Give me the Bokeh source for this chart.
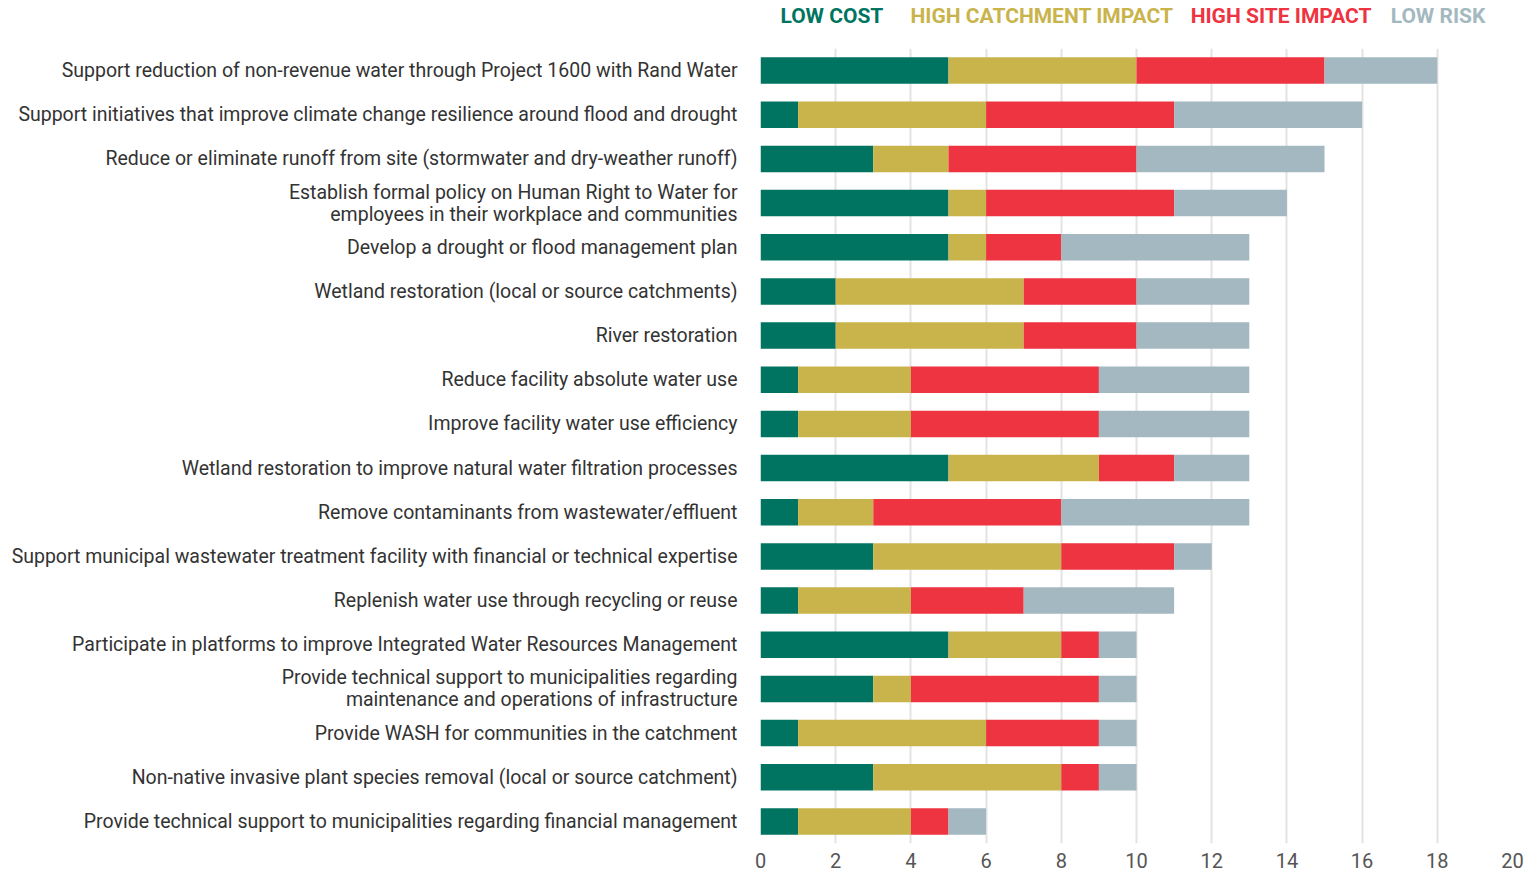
from bokeh.plotting import figure
from bokeh.layouts import column
from bokeh.models import FactorRange, Range1d, SingleIntervalTicker, ColumnDataSource
from bokeh.core.properties import value
from bokeh.embed import file_html
from bokeh.resources import INLINE

actions = [
    "Support reduction of non-revenue water through Project 1600 with Rand Water",
    "Support initiatives that improve climate change resilience around flood and drought",
    "Reduce or eliminate runoff from site (stormwater and dry-weather runoff)",
    "Establish formal policy on Human Right to Water for\nemployees in their workplace and communities",
    "Develop a drought or flood management plan",
    "Wetland restoration (local or source catchments)",
    "River restoration",
    "Reduce facility absolute water use",
    "Improve facility water use efficiency",
    "Wetland restoration to improve natural water filtration processes",
    "Remove contaminants from wastewater/effluent",
    "Support municipal wastewater treatment facility with financial or technical expertise",
    "Replenish water use through recycling or reuse",
    "Participate in platforms to improve Integrated Water Resources Management",
    "Provide technical support to municipalities regarding\nmaintenance and operations of infrastructure",
    "Provide WASH for communities in the catchment",
    "Non-native invasive plant species removal (local or source catchment)",
    "Provide technical support to municipalities regarding financial management",
]
low_cost = [5, 1, 3, 5, 5, 2, 2, 1, 1, 5, 1, 3, 1, 5, 3, 1, 3, 1]
high_catchment = [5, 5, 2, 1, 1, 5, 5, 3, 3, 4, 2, 5, 3, 3, 1, 5, 5, 3]
high_site = [5, 5, 5, 5, 2, 3, 3, 5, 5, 2, 5, 3, 3, 1, 5, 3, 1, 1]
low_risk = [3, 5, 5, 3, 5, 3, 3, 4, 4, 2, 5, 1, 4, 1, 1, 1, 1, 1]

series = ["LOW COST", "HIGH CATCHMENT IMPACT", "HIGH SITE IMPACT", "LOW RISK"]
keys = ["low_cost", "high_catchment", "high_site", "low_risk"]
colors = ["#007461", "#C9B44C", "#EE3341", "#A3B8C0"]

FONT = "Roboto"
xr = Range1d(0, 20)

# legend strip (text only, coloured like the series)
leg = figure(width=1528, height=32, output_backend="svg", toolbar_location=None,
             x_range=xr, y_range=Range1d(0, 32), min_border_left=760,
             min_border_right=16, min_border_top=0, min_border_bottom=0)
leg.axis.visible = False
leg.grid.grid_line_color = None
leg.outline_line_color = None
leg_src = ColumnDataSource(dict(x=[0.53, 3.99, 11.44, 16.76], y=[17] * 4,
                                text=series, color=colors))
leg.text(x="x", y="y", text="text", text_color="color", source=leg_src,
         text_font=value(FONT), text_font_style="bold", text_font_size="21px",
         text_baseline="middle", text_align="left")

src = ColumnDataSource(dict(action=actions, low_cost=low_cost,
                            high_catchment=high_catchment,
                            high_site=high_site, low_risk=low_risk))

p = figure(width=1528, height=838, output_backend="svg", toolbar_location=None,
           y_range=FactorRange(factors=list(reversed(actions)), range_padding=0),
           x_range=xr, min_border_left=760, min_border_right=16,
           min_border_top=16, min_border_bottom=0)

p.hbar_stack(keys, y="action", height=0.6, color=colors, source=src,
             line_color=None)

p.xaxis.ticker = SingleIntervalTicker(interval=2)
p.xaxis.axis_line_color = None
p.xaxis.major_tick_line_color = None
p.xaxis.minor_tick_line_color = None
p.xaxis.major_label_text_font = FONT
p.xaxis.major_label_text_font_size = "20px"
p.xaxis.major_label_text_color = "#555555"
p.xaxis.major_label_standoff = 3

p.yaxis.axis_line_color = None
p.yaxis.major_tick_line_color = None
p.yaxis.minor_tick_line_color = None
p.yaxis.major_label_text_font = FONT
p.yaxis.major_label_text_font_size = "19.5px"
p.yaxis.major_label_text_color = "#333333"
p.yaxis.major_label_text_line_height = 0.95
p.yaxis.major_label_standoff = 17

p.ygrid.grid_line_color = None
p.xgrid.grid_line_color = "#E3E3E3"
p.xgrid.grid_line_width = 2
p.outline_line_color = None

layout = column(leg, p, spacing=0)
open("out.html", "w").write(file_html(layout, INLINE))
